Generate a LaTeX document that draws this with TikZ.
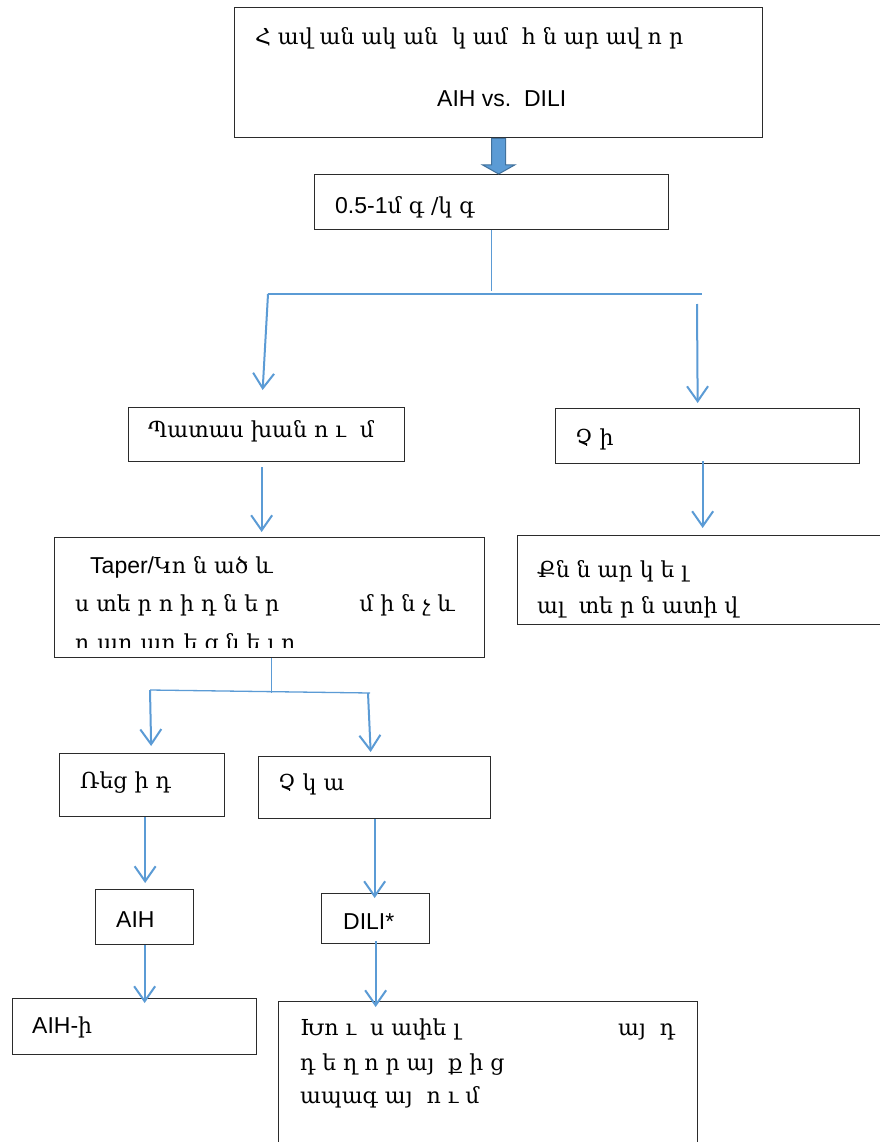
\documentclass[tikz,border=0pt]{standalone}
\usepackage{fontspec}
\setmainfont{Liberation Sans}
\newfontfamily\armfont{DejaVu Serif}
\usetikzlibrary{arrows.meta,calc}
\definecolor{flowblue}{HTML}{5B9BD5}
\definecolor{flowblueedge}{HTML}{41719C}
\definecolor{boxgray}{HTML}{2B2B2B}
\newcommand{\hy}[1]{{\armfont\fontsize{22}{26}\selectfont #1}}

\begin{document}
\begin{tikzpicture}[x=1pt,y=-1pt,
  every node/.style={font=\fontsize{23}{27}\selectfont},
  box/.style={draw=boxgray,line width=1.3pt,anchor=north west,inner sep=0pt},
  txt/.style={anchor=base west,inner sep=0pt},
  link/.style={draw=flowblue,line width=1.3pt},
  arr/.style={draw=flowblue,line width=2pt,-{Straight Barb[length=15pt,width=21pt]}},
  fat/.style={fill=flowblue,draw=flowblueedge,line width=1pt}]
  \fill[white] (0,0) rectangle (879,1142);
  \useasboundingbox (0,0) rectangle (879,1142);

  \node[box,minimum width=528,minimum height=130] (top) at (234,7) {};
  \node[box,minimum width=354,minimum height=55] (dose) at (314,174) {};
  \node[box,minimum width=276,minimum height=54] (resp) at (128,407) {};
  \node[box,minimum width=304,minimum height=55] (no) at (555,408) {};
  \node[box,minimum width=430,minimum height=120] (taper) at (54,537) {};
  \node[box,minimum width=380,minimum height=89] (alt) at (517,535) {};
  \node[box,minimum width=165,minimum height=63] (recid) at (59,753) {};
  \node[box,minimum width=232,minimum height=62] (none) at (258,756) {};
  \node[box,minimum width=98,minimum height=55] (aih) at (95,889) {};
  \node[box,minimum width=108,minimum height=50] (dili) at (321,893) {};
  \node[box,minimum width=244,minimum height=56] (aihi) at (12,998) {};
  \node[box,minimum width=419,minimum height=170] (avoid) at (278,1001) {};

  \node[txt] (topA) at (255,45) {\hy{Հ ավ ան ակ ան~ կ ամ~ հ ն ար ավ ո ր}};
  \node[txt] (topB) at (437,107) {AIH vs.\ \ DILI};
  \node[txt] (doseT) at (335,213) {0.5-1\hy{մ գ /կ գ}};
  \node[txt] (respT) at (148,437) {\hy{Պատաս խան ո ւ~ մ}};
  \node[txt] (noT) at (575,445) {\hy{Չ ի}};
  \node[txt] (taperA) at (90,573) {Taper/\hy{Կո ն ած և}};
  \node[txt] (taperB) at (75,611) {\hy{ս տե ր ո ի դ ն ե ր\hspace{80pt}մ ի ն չ և}};
  \begin{scope}
    \clip (54,537) rectangle (484,647);
    \node[txt] (taperC) at (75,650) {\hy{դ ադ ադ ե ց ն ե լ ո}};
  \end{scope}
  \node[txt] (altA) at (537,577) {\hy{Քն ն ար կ ե լ}};
  \node[txt] (altB) at (537,613) {\hy{ալ~ տե ր ն ատի վ}};
  \node[txt] (recidT) at (80,788) {\hy{Ռեց ի դ}};
  \node[txt] (noneT) at (278,790) {\hy{Չ կ ա}};
  \node[txt] (aihT) at (116,927) {AIH};
  \node[txt] (diliT) at (343,929) {DILI*};
  \node[txt] (aihiT) at (32,1033) {AIH-\hy{ի}};
  \node[txt] (avoidA) at (300,1035) {\hy{Խո ւ~ ս ափե լ\hspace{158pt}այ~ դ}};
  \node[txt] (avoidB) at (300,1070) {\hy{դ ե ղ ո ր այ~ ք ի ց}};
  \node[txt] (avoidC) at (300,1103) {\hy{ապագ այ~ ո ւ մ}};

  \coordinate (forkL) at (268,294);
  \coordinate (forkR) at (702,294);
  \coordinate (splitL) at (150,690);
  \coordinate (splitR) at (370,693);

  \coordinate (tip) at (top.south |- dose.north);
  \draw[fat] ($(top.south)+(-7,0)$) -- ($(tip)+(-7,-9)$) -- ($(tip)+(-16,-9)$) -- (tip)
    -- ($(tip)+(16,-9)$) -- ($(tip)+(7,-9)$) -- ($(top.south)+(7,0)$) -- cycle;

  \draw[link,line width=1.2pt] (dose.south) -- ([yshift=3]dose.south |- forkR);
  \draw[link] (forkL) -- (forkR);
  \draw[arr] (forkL) -- ([shift={(-4,-17)}]resp.north);
  \draw[arr] ([shift={(-5,10)}]forkR) -- ([shift={(-10,-5)}]no.north);
  \draw[arr] ([shift={(-5,5)}]resp.south) -- ([shift={(-8,-5)}]taper.north);
  \draw[arr] ([shift={(-5,-3)}]no.south) -- ([shift={(-5,-7)}]alt.north);

  \draw[link,line width=1.2pt] ([xshift=2]taper.south) -- ++(0,35);
  \draw[link] (splitL) -- (splitR);
  \draw[arr] (splitL) -- ([shift={(9,-7)}]recid.north);
  \draw[arr] ([xshift=-2]splitR) -- ([shift={(-4,-4)}]none.north);
  \draw[arr] ([xshift=3]recid.south) -- ([shift={(3,-6)}]recid.south |- aih.north);
  \draw[arr] (none.south) -- ([yshift=-5]none.south |- dili.north);
  \draw[arr] (aih.south) -- ([yshift=-5]aih.south |- aihi.north);
  \draw[arr] ([yshift=3]dili.south) -- ([yshift=-6]dili.south |- avoid.north);
\end{tikzpicture}
\end{document}
